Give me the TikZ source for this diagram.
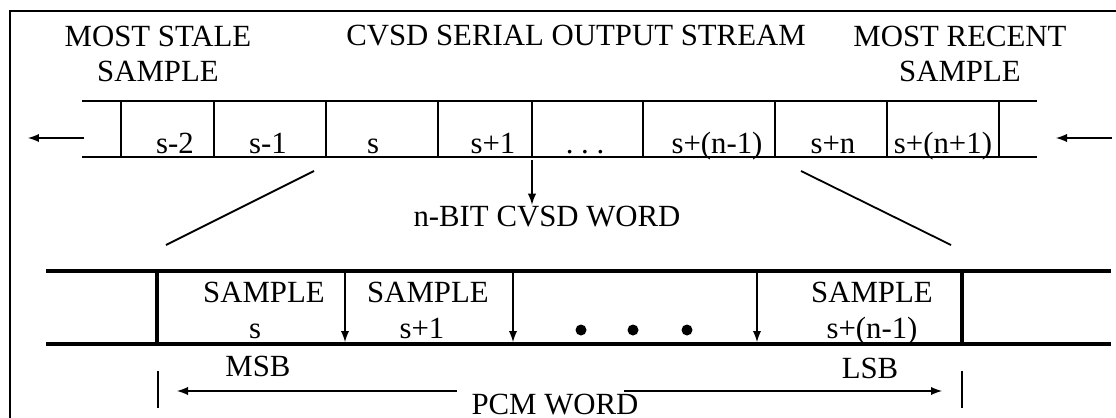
\documentclass[tikz,border=0pt]{standalone}
\usepackage{fontspec}
\setmainfont{Liberation Serif}
\usetikzlibrary{arrows.meta}
\begin{document}
\begin{tikzpicture}[>=latex, x=0.5pt, y=-0.5pt, line width=0.9pt,
  lbl/.style={anchor=base, inner sep=0pt, font=\fontsize{15.4}{17.5}\selectfont},
  ttl/.style={lbl, anchor=north, align=center},
  heavy/.style={line width=2.3pt}]
\useasboundingbox (0,0) rectangle (1116,418);
\draw (10,11) rectangle (1140,440);
\node[ttl] (stale) at (158,25) {MOST STALE\\SAMPLE};
\node[lbl] (title) at (576,45) {CVSD SERIAL OUTPUT STREAM};
\node[ttl] (recent) at (960,25) {MOST RECENT\\SAMPLE};
\draw (82,101) -- (1037,101) (82,157) -- (1037,157);
\foreach \x in {121,214,326,438,532,643,775,887,999}
  \draw (\x,101) -- (\x,157);
\foreach \x/\t [count=\i] in {175/{s-2},268/{s-1},373/s,493/{s+1},585/{.\ .\ .},717/{s+(n-1)},833/{s+n},943/{s+(n+1)}}
  \node[lbl] (c\i) at (\x,153) {\t};
\coordinate (outA) at (84,138);
\coordinate (outB) at (28,138);
\coordinate (inA) at (1112,138);
\coordinate (inB) at (1056,138);
\draw[->] (outA) -- (outB);
\draw[->] (inA) -- (inB);
\coordinate (tap) at (532,160);
\node[lbl] (word) at (547,226) {n-BIT CVSD WORD};
\draw[->] (tap) -- (word.north -| tap);
\coordinate (zl1) at (314,171);
\coordinate (zl2) at (166,245);
\coordinate (zr1) at (801,171);
\coordinate (zr2) at (951,245);
\draw (zl1) -- (zl2) (zr1) -- (zr2);
\draw[heavy] (46,271) -- (1111,271) (46,344) -- (1111,344)
  (157,271) -- (157,344) (962,271) -- (962,344);
\foreach \x in {345,513,757}
  \draw[->] (\x,271) -- (\x,342);
\node[lbl] (sa1) at (264,302) {SAMPLE};
\node[lbl] (sv1) at (255,338) {s};
\node[lbl] (sa2) at (428,302) {SAMPLE};
\node[lbl] (sv2) at (422,338) {s+1};
\foreach \x in {581,633,687}
  \fill (\x,330) circle (5.5);
\node[lbl] (sa3) at (872,302) {SAMPLE};
\node[lbl] (sv3) at (872,338) {s+(n-1)};
\node[lbl] (msb) at (258,376) {MSB};
\node[lbl] (lsb) at (870,378) {LSB};
\draw (158,371) -- (158,408) (962,371) -- (962,408);
\node[lbl] (pcm) at (555,414) {PCM WORD};
\coordinate (pl1) at (457,391);
\coordinate (pl2) at (177,391);
\coordinate (pr1) at (624,391);
\coordinate (pr2) at (942,391);
\draw[->] (pl1) -- (pl2);
\draw[->] (pr1) -- (pr2);
\end{tikzpicture}
\end{document}
